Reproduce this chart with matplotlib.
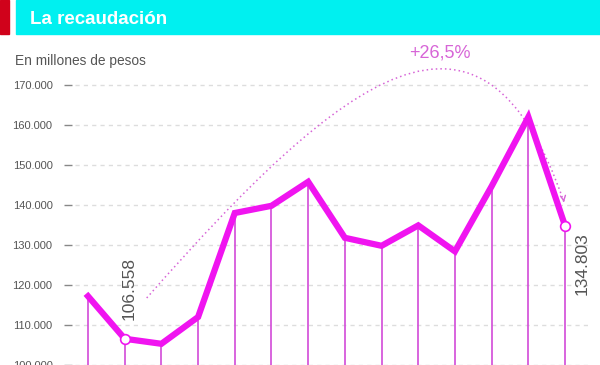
import matplotlib
matplotlib.use("Agg")
import matplotlib.pyplot as plt
from matplotlib.patches import Rectangle, PathPatch
from matplotlib.path import Path

# recaudación mensual, en millones de pesos
valores = [117200, 106558, 105300, 112000, 138000, 139800, 145800,
           131800, 129800, 134900, 128400, 144700, 162000, 134803]
ticks_y = [100000, 110000, 120000, 130000, 140000, 150000, 160000, 170000]
titulo = "La recaudación"
subtitulo = "En millones de pesos"
variacion = "+26,5%"

magenta = "#f014f0"
violeta = "#d24ad8"
rosa = "#d765d7"

plt.rcParams['font.family'] = ['Liberation Sans', 'DejaVu Sans']

fig = plt.figure(figsize=(6, 3.65), dpi=100)
# cabecera
fig.patches.append(Rectangle((16/600, 1-34/365), 1, 34/365, transform=fig.transFigure,
                             color="#00f0f0", zorder=0))
fig.patches.append(Rectangle((0, 1-34/365), 9/600, 34/365, transform=fig.transFigure,
                             color="#d0021b", zorder=0))
fig.text(30/600, 1-19/365, titulo, color="white", fontsize=13.5, fontweight="bold",
         va="center", ha="left")
fig.text(15/600, 1-61/365, subtitulo, color="#555555", fontsize=9.9, va="center", ha="left")

ax = fig.add_axes([72/600, 0, 518/600, 325/365])
x = list(range(len(valores)))
ax.set_xlim(-0.436, 13.68)
ax.set_ylim(100000, 181250)

for v in ticks_y:
    ax.axhline(v, xmin=0.006, xmax=1, color="#dddddd", lw=1, ls=(0, (3, 3)), zorder=1)

ax.vlines(x, 0, valores, color=violeta, lw=1.2, zorder=2)
ax.plot(x, valores, color=magenta, lw=4.5, solid_joinstyle="miter", zorder=3)
ax.plot([x[1], x[-1]], [valores[1], valores[-1]], ls="none", marker="o", ms=7,
        mfc="white", mec=magenta, mew=1.2, zorder=4)

ax.text(x[1] + 0.12, valores[1] + 4700, f"{valores[1]:,}".replace(",", "."), rotation=90,
        fontsize=12.5, color="#555555", ha="center", va="bottom")
ax.text(x[-1] + 0.47, valores[-1] - 1600, f"{valores[-1]:,}".replace(",", "."), rotation=90,
        fontsize=12.5, color="#555555", ha="center", va="top")

# arco punteado de la variación
p0 = (x[1] + 0.6, valores[1] + 10200)
p3 = (x[-1] - 0.03, valores[-1] + 5900)
c1 = (7.0, 173000)
c2 = (10.76, 199900)
arco = Path([p0, c1, c2, p3], [Path.MOVETO, Path.CURVE4, Path.CURVE4, Path.CURVE4])
ax.add_patch(PathPatch(arco, fill=False, ec=rosa, lw=1.1, ls=(0, (1, 2)), clip_on=False,
                       zorder=2))
ax.annotate("", xy=p3, xytext=(p3[0] - 0.02, p3[1] + 1200),
            arrowprops=dict(arrowstyle="->", color=rosa, lw=1, mutation_scale=9))
ax.text(9.6, 178000, variacion, color=rosa, fontsize=13, ha="center", va="center")

for s in ax.spines.values():
    s.set_visible(False)
ax.set_xticks([])
ax.set_yticks(ticks_y)
ax.set_yticklabels([f"{v:,}".replace(",", ".") for v in ticks_y])
ax.tick_params(axis="y", length=6, width=1, color="#888888", pad=8,
               labelsize=8, labelcolor="#555555")

fig.savefig("out.png", dpi=100)
